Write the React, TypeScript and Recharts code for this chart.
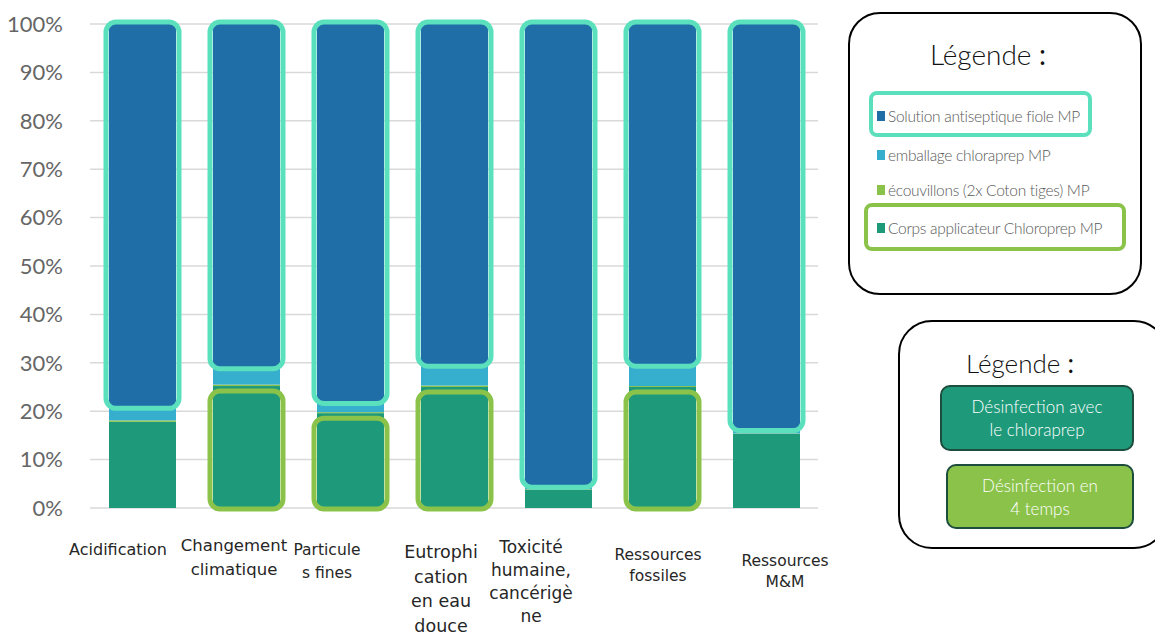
import React from "react";
import {
  BarChart,
  Bar,
  XAxis,
  YAxis,
  CartesianGrid,
  Legend,
} from "recharts";

// impact categories (x axis)
const categories = [
  "Acidification",
  "Changement climatique",
  "Particules fines",
  "Eutrophisation en eau douce",
  "Toxicité humaine, cancérigène",
  "Ressources fossiles",
  "Ressources M&M",
];

// wrapped tick labels, one array of lines per category
const tickLines = [
  ["Acidification"],
  ["Changement", "climatique"],
  ["Particule", "s fines"],
  ["Eutrophi", "cation", "en eau", "douce"],
  ["Toxicité", "humaine,", "cancérigè", "ne"],
  ["Ressources", "fossiles"],
  ["Ressources", "M&M"],
];

// share of each component, in %
const corpsApplicateur = [17.8, 25.2, 19.6, 25.0, 3.8, 25.0, 15.3];
const ecouvillons = [0.3, 0.3, 0.2, 0.3, 0.1, 0.2, 0.1];
const emballage = [2.7, 3.5, 2.0, 4.2, 0.6, 4.3, 0.8];
const solution = [79.2, 71.0, 78.2, 70.5, 95.5, 70.5, 83.8];

// which segments get a highlight frame
const solutionFramed = [true, true, true, true, true, true, true];
const corpsFramed = [false, true, true, true, false, true, false];

const yTicks = [0, 10, 20, 30, 40, 50, 60, 70, 80, 90, 100];

const seriesNames = {
  corps: "Corps applicateur Chloroprep MP",
  ecouv: "écouvillons (2x Coton tiges) MP",
  emb: "emballage chloraprep MP",
  sol: "Solution antiseptique fiole MP",
};

// legend order, top to bottom
const legendOrder = [seriesNames.sol, seriesNames.emb, seriesNames.ecouv, seriesNames.corps];

const COLORS = {
  corps: "#1e9a7a",
  ecouv: "#8bc34a",
  emb: "#36aece",
  sol: "#1f6ea8",
  teal: "#5be0bd",
  lime: "#8bc34a",
};

// per-label placement tweaks
const tickStyle = [
  { dx: -24, dy: 41, size: 16, lh: 23 },
  { dx: -12, dy: 37, size: 16.5, lh: 24 },
  { dx: -23, dy: 42, size: 15.5, lh: 23 },
  { dx: -13, dy: 44, size: 17.5, lh: 24.5 },
  { dx: -27, dy: 39, size: 17, lh: 23 },
  { dx: -4, dy: 47, size: 15.5, lh: 21 },
  { dx: 19, dy: 53, size: 15.5, lh: 21 },
];

const data = categories.map((name, i) => ({
  name,
  corps: corpsApplicateur[i],
  ecouv: ecouvillons[i],
  emb: emballage[i],
  sol: solution[i],
}));

const FONT = "Lato, 'Open Sans', sans-serif";
const WIDE_FONT = "'DejaVu Sans', 'Open Sans', sans-serif";

function CategoryTick(props: any) {
  const { x, y, index } = props;
  const lines = tickLines[index] || [];
  const s = tickStyle[index];
  return (
    <g transform={`translate(${x + s.dx},${y})`}>
      {lines.map((line, k) => (
        <text
          key={k}
          x={0}
          y={s.dy - 8 + k * s.lh}
          dy="0.35em"
          textAnchor="middle"
          fontSize={s.size}
          fontFamily={WIDE_FONT}
          fill="#262626"
        >
          {line}
        </text>
      ))}
    </g>
  );
}

function makeShape(fill: string, frame: boolean[] | null, frameColor: string, kind: "top" | "bottom") {
  return (props: any) => {
    const { x, y, width, height, index } = props;
    if (height == null || height <= 0) return <g />;
    const framed = frame && frame[index];
    let fy = y - 2;
    let fh = height + 3;
    if (kind === "bottom") {
      fy = y + 5;
      fh = height - 4;
    }
    return (
      <g>
        <rect x={x} y={y} width={width} height={height} fill={fill} />
        {framed && (
          <rect
            x={x - 3}
            y={fy}
            width={width + 6}
            height={fh}
            rx={10}
            ry={10}
            fill="none"
            stroke={frameColor}
            strokeWidth={5}
          />
        )}
      </g>
    );
  };
}

function SeriesLegend(props: any) {
  const payload: any[] = props.payload || [];
  const items = legendOrder
    .map((name) => payload.find((p) => p.value === name))
    .filter(Boolean);
  const frames: Record<string, { color: string; l: number; w: number; h: number }> = {
    [seriesNames.sol]: { color: COLORS.teal, l: 21, w: 223, h: 46 },
    [seriesNames.corps]: { color: COLORS.lime, l: 16, w: 262, h: 48 },
  };
  const tops = [93, 132, 167, 205];
  return (
    <div
      style={{
        position: "absolute",
        left: 848,
        top: 12,
        width: 294,
        height: 283,
        border: "2px solid #000",
        borderRadius: 32,
        background: "#fff",
        fontFamily: FONT,
        boxSizing: "border-box",
      }}
    >
      <div
        style={{
          position: "absolute",
          top: 23,
          left: 0,
          width: 276,
          textAlign: "center",
          fontSize: 28,
          fontWeight: 300,
          color: "#111",
        }}
      >
        Légende <b>:</b>
      </div>
      {items.map((it: any, i: number) => {
        const f = frames[it.value];
        return (
          <React.Fragment key={it.value}>
            {f && (
              <div
                style={{
                  position: "absolute",
                  left: f.l - 2,
                  top: tops[i] - 16,
                  width: f.w,
                  height: f.h,
                  border: `4px solid ${f.color}`,
                  borderRadius: 8,
                  boxSizing: "border-box",
                }}
              />
            )}
            <div
              style={{
                position: "absolute",
                left: 27,
                top: tops[i],
                display: "flex",
                alignItems: "center",
                fontSize: 15.5,
                fontWeight: 300,
                color: "#595959",
                whiteSpace: "nowrap",
                letterSpacing: -0.3,
              }}
            >
              <span
                style={{
                  display: "inline-block",
                  width: 8,
                  height: 10,
                  background: it.color,
                  marginRight: 3,
                }}
              />
              {it.value}
            </div>
          </React.Fragment>
        );
      })}
    </div>
  );
}

function MethodLegend() {
  const box = (bg: string, left: number, top: number, w: number, h: number, lines: string[]) => (
    <div
      style={{
        position: "absolute",
        left,
        top,
        width: w,
        height: h,
        background: bg,
        border: "2px solid #1d4d3d",
        borderRadius: 10,
        boxSizing: "border-box",
        color: "#fff",
        fontSize: 17,
        fontWeight: 300,
        lineHeight: "23px",
        textAlign: "center",
        display: "flex",
        flexDirection: "column",
        justifyContent: "center",
      }}
    >
      {lines.map((l) => (
        <div key={l}>{l}</div>
      ))}
    </div>
  );
  return (
    <div
      style={{
        position: "absolute",
        left: 898,
        top: 320,
        width: 270,
        height: 229,
        border: "2px solid #000",
        borderRadius: 34,
        boxSizing: "border-box",
        fontFamily: FONT,
        background: "#fff",
      }}
    >
      <div
        style={{
          position: "absolute",
          left: 0,
          top: 25,
          width: 240,
          textAlign: "center",
          fontSize: 26,
          fontWeight: 300,
          color: "#111",
        }}
      >
        Légende <b>:</b>
      </div>
      {box(COLORS.corps, 40, 63, 194, 66, ["Désinfection avec", "le chloraprep"])}
      {box(COLORS.lime, 46, 142, 188, 65, ["Désinfection en", "4 temps"])}
    </div>
  );
}

export default function App() {
  return (
    <div
      style={{
        position: "absolute",
        left: 0,
        top: 0,
        width: 1155,
        height: 636,
        background: "#fff",
        overflow: "hidden",
      }}
    >
      <BarChart
        width={1155}
        height={636}
        data={data}
        margin={{ top: 24, right: 337, bottom: 8, left: 0 }}
        barSize={67}
      >
        <CartesianGrid vertical={false} stroke="#d9d9d9" strokeWidth={1.5} />
        <XAxis
          dataKey="name"
          axisLine={false}
          tickLine={false}
          height={120}
          interval={0}
          tick={<CategoryTick />}
        />
        <YAxis
          domain={[0, 100]}
          ticks={yTicks}
          width={90}
          axisLine={false}
          tickLine={false}
          tickSize={0}
          tickMargin={27}
          tickFormatter={(v: number) => `${v}%`}
          tick={{ fontSize: 22, fill: "#666666", fontFamily: FONT, fontWeight: 400 }}
        />
        <Legend content={<SeriesLegend />} wrapperStyle={{ position: "absolute", left: 0, top: 0, width: 0, height: 0 }} />
        <Bar
          dataKey="corps"
          name={seriesNames.corps}
          stackId="a"
          fill={COLORS.corps}
          isAnimationActive={false}
          shape={makeShape(COLORS.corps, corpsFramed, COLORS.lime, "bottom")}
        />
        <Bar
          dataKey="ecouv"
          name={seriesNames.ecouv}
          stackId="a"
          fill={COLORS.ecouv}
          isAnimationActive={false}
          shape={makeShape(COLORS.ecouv, null, "", "top")}
        />
        <Bar
          dataKey="emb"
          name={seriesNames.emb}
          stackId="a"
          fill={COLORS.emb}
          isAnimationActive={false}
          shape={makeShape(COLORS.emb, null, "", "top")}
        />
        <Bar
          dataKey="sol"
          name={seriesNames.sol}
          stackId="a"
          fill={COLORS.sol}
          isAnimationActive={false}
          shape={makeShape(COLORS.sol, solutionFramed, COLORS.teal, "top")}
        />
      </BarChart>
      <MethodLegend />
    </div>
  );
}
